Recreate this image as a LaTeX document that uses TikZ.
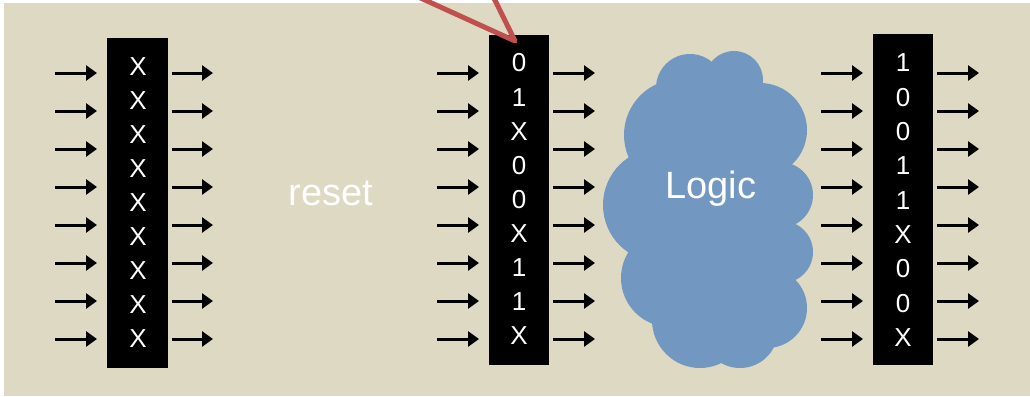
\documentclass[tikz,border=0pt]{standalone}
\usepackage{fontspec}
\setmainfont{Liberation Sans}
\usetikzlibrary{arrows.meta}
\definecolor{panel}{HTML}{DDD9C3}
\definecolor{cloudblue}{HTML}{7297C0}
\definecolor{callout}{HTML}{C0504D}

\begin{document}
\begin{tikzpicture}[x=1pt,y=-1pt,
  register/.style={fill=black, draw=none, inner sep=0pt,
    minimum width=60pt, minimum height=330pt},
  bit/.style={text=white, inner sep=0pt,
    font=\fontsize{26}{26}\selectfont},
  wire/.style={line width=3pt, -{Triangle[length=11pt,width=15pt]}},
  label/.style={text=white, inner sep=0pt, anchor=base,
    font=\fontsize{38}{38}\selectfont},
  puff/.style={fill=cloudblue, draw=none}]

\useasboundingbox (0,0) rectangle (1030,396);
\clip (0,0) rectangle (1030,396);
\fill[white] (0,0) rectangle (1030,396);
\fill[panel] (4,3) rectangle (1030,396);

% three registers
\node[register, minimum width=61pt] (regA) at (137.5,203) {};
\node[register] (regB) at (519,200) {};
\node[register] (regC) at (903,199.5) {};

% register contents
\foreach \v [count=\i from 0] in {X,X,X,X,X,X,X,X,X}
  \node[bit] (a\i) at (138,67+34*\i) {\v};
\foreach \v [count=\i from 0] in {0,1,X,0,0,X,1,1,X}
  \node[bit] (b\i) at (519,63+34.1*\i) {\v};
\foreach \v [count=\i from 0] in {1,0,0,1,1,X,0,0,X}
  \node[bit] (c\i) at (903,63+34.3*\i) {\v};

% input and output wires of each register
\foreach \i in {0,...,7}{
  \pgfmathsetmacro{\yy}{73+38*\i}
  \coordinate (ainS\i) at (55,\yy);  \coordinate (ainE\i) at (97,\yy);
  \coordinate (aoutS\i) at (172,\yy); \coordinate (aoutE\i) at (213,\yy);
  \coordinate (binS\i) at (437,\yy); \coordinate (binE\i) at (479,\yy);
  \coordinate (boutS\i) at (553,\yy); \coordinate (boutE\i) at (595,\yy);
  \coordinate (cinS\i) at (821,\yy); \coordinate (cinE\i) at (863,\yy);
  \coordinate (coutS\i) at (937,\yy); \coordinate (coutE\i) at (979,\yy);
  \draw[wire] (ainS\i) -- (ainE\i);
  \draw[wire] (aoutS\i) -- (aoutE\i);
  \draw[wire] (binS\i) -- (binE\i);
  \draw[wire] (boutS\i) -- (boutE\i);
  \draw[wire] (cinS\i) -- (cinE\i);
  \draw[wire] (coutS\i) -- (coutE\i);
}

% logic cloud built from overlapping puffs
\fill[puff] (712,210) ellipse [x radius=80, y radius=130];
\fill[puff] (690,88) circle [radius=34];
\fill[puff] (734,80) circle [radius=29];
\fill[puff] (680,135) circle [radius=56];
\fill[puff] (760,130) circle [radius=47];
\fill[puff] (660,205) circle [radius=57];
\fill[puff] (780,195) circle [radius=33];
\fill[puff] (782,252) circle [radius=31];
\fill[puff] (767,308) circle [radius=40];
\fill[puff] (740,330) circle [radius=38];
\fill[puff] (700,320) circle [radius=48];
\fill[puff] (670,278) circle [radius=49];
\node[label] (logic) at (711,198) {Logic};

\node[label] (reset) at (331,205) {reset};

% callout pointer into the middle register
\coordinate (ptrL) at (403,-10);
\coordinate (ptrTip) at (515,41);
\coordinate (ptrR) at (490,-10);
\draw[callout, line width=5pt, line join=round] (ptrL) -- (ptrTip) -- (ptrR);
\end{tikzpicture}
\end{document}
